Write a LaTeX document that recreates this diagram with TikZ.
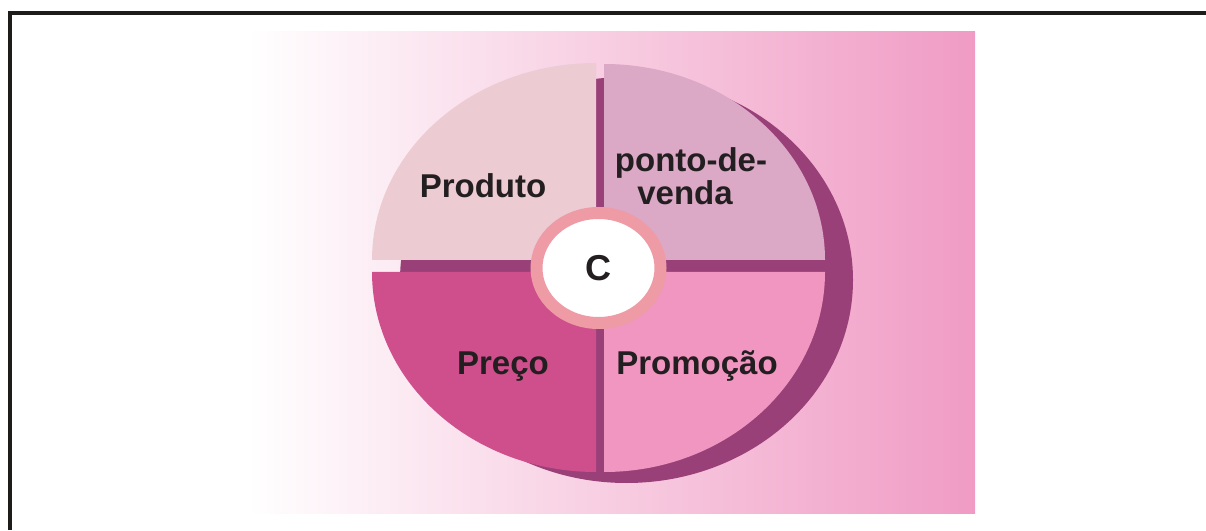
\documentclass[tikz,border=0pt]{standalone}
\usepackage{fontspec}
\setmainfont{Liberation Sans}
\usetikzlibrary{shapes.geometric}
\definecolor{bgpink}{HTML}{F09BC4}
\definecolor{prodfill}{HTML}{EDCBD3}
\definecolor{pontofill}{HTML}{DBA8C6}
\definecolor{precofill}{HTML}{CF4E8C}
\definecolor{promofill}{HTML}{F096C0}
\definecolor{shadowfill}{HTML}{9A4079}
\definecolor{ringpink}{HTML}{EE9BA6}
\definecolor{ink}{HTML}{231F20}
\definecolor{framegray}{HTML}{1E1B1B}
\newcommand{\bigbold}[1]{{\fontsize{33}{33}\selectfont\bfseries #1}}

\begin{document}
\begin{tikzpicture}[x=1pt, y=1pt,
  lbl/.style={text=ink, inner sep=0pt, anchor=base},
  quarter/.style={draw=none},
  hub/.style={ellipse, draw=ringpink, line width=12pt, fill=white,
    minimum width=124pt, minimum height=110pt, inner sep=0pt, text=ink}
  ]
  \useasboundingbox (0,0) rectangle (1206,530);
  % frame (only top and left edges are seen)
  \draw[framegray, line width=4pt] (1206,517) -- (9.5,517) -- (9.5,0);
  % background
  \shade[left color=white, right color=bgpink] (248,17) rectangle (975,498);
  % shadow behind the pie
  \fill[shadowfill] (626.5,250) ellipse [x radius=226.5, y radius=203];
  % the four quarters
  \fill[quarter, prodfill] (596,270) -- (372,270)
    arc[start angle=180, end angle=90, x radius=224, y radius=197] -- cycle;
  \fill[quarter, pontofill] (604,270) -- (604,466)
    arc[start angle=90, end angle=0, x radius=221, y radius=196] -- cycle;
  \fill[quarter, precofill] (596,258) -- (372,258)
    arc[start angle=180, end angle=270, x radius=224, y radius=200] -- cycle;
  \fill[quarter, promofill] (604,258) -- (825,258)
    arc[start angle=0, end angle=-90, x radius=221, y radius=200] -- cycle;
  % centre
  \node[hub] (c) at (598.5,262) {{\fontsize{36}{36}\selectfont\bfseries C}};
  % labels
  \node[lbl] (produto) at (483,332) {\bigbold{Produto}};
  \node[lbl] (ponto) at (691,358) {\bigbold{ponto-de-}};
  \node[lbl] (venda) at (685,325) {\bigbold{venda}};
  \node[lbl] (preco) at (503,155) {\bigbold{Preço}};
  \node[lbl] (promocao) at (697,155) {\bigbold{Promoção}};
\end{tikzpicture}
\end{document}
